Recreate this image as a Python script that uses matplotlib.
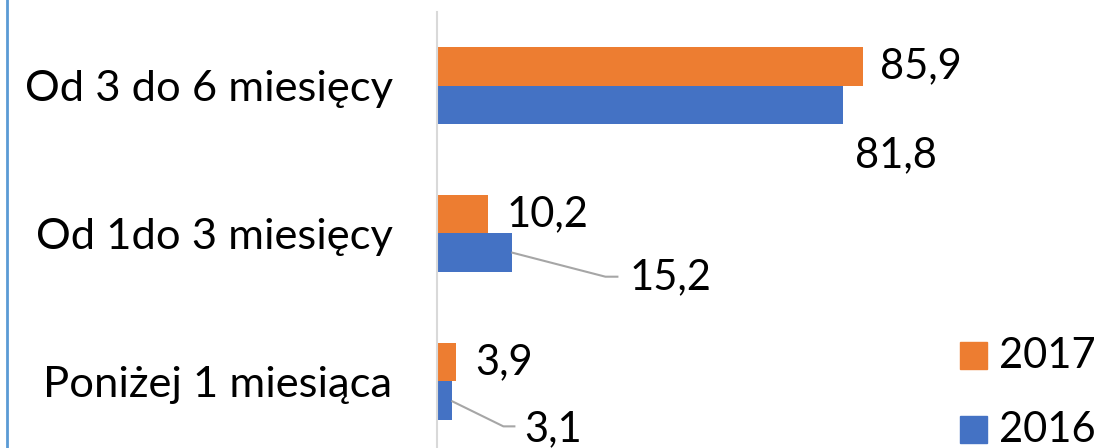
import matplotlib
matplotlib.use("Agg")
import matplotlib.pyplot as plt
from matplotlib.patches import Rectangle
from matplotlib.lines import Line2D
import numpy as np

categories = ["Poniżej 1 miesiąca", "Od 1do 3 miesięcy", "Od 3 do 6 miesięcy"]
series_names = ["2017", "2016"]
values_2017 = [3.9, 10.2, 85.9]
values_2016 = [3.1, 15.2, 81.8]
labels_2017 = ["3,9", "10,2", "85,9"]
labels_2016 = ["3,1", "15,2", "81,8"]

ORANGE = "#ED7D31"
BLUE = "#4472C4"
FONT = "Lato"
FS = 30
FS_CAT = 31.3

W, H = 1102, 448
fig = plt.figure(figsize=(W / 100, H / 100), dpi=100)
ax = fig.add_axes([437 / W, -7 / H, (W - 437) / W, 443 / H])

y = np.arange(len(categories))
bh = 0.26
ax.barh(y + bh / 2, values_2017, height=bh, color=ORANGE)
ax.barh(y - bh / 2, values_2016, height=bh, color=BLUE)
ax.set_xlim(0, 665 / 4.96)
ax.set_ylim(-0.5, 2.5)

for s in ["top", "right", "bottom"]:
    ax.spines[s].set_visible(False)
ax.spines["left"].set_color("#D9D9D9")
ax.spines["left"].set_linewidth(1.5)
ax.set_xticks([])
ax.set_yticks(y)
ax.set_yticklabels(categories, fontsize=FS_CAT, family=FONT)
ax.tick_params(axis="y", length=0, pad=32)

# value label offsets (pixels, from bar end)
off_2017 = [(19, 0), (19, 0), (17, 0)]
off_2016 = [(72, -29), (117, -25), (12, -50)]
leaders_2016 = [[(0, -1), (51, -26), (62, -26)], [(0, 0), (93, -24), (105, -24)], None]

for i in range(len(categories)):
    ax.annotate(labels_2017[i], xy=(values_2017[i], y[i] + bh / 2),
                xytext=off_2017[i], textcoords="offset pixels",
                ha="left", va="center", fontsize=FS, family=FONT)
    ax.annotate(labels_2016[i], xy=(values_2016[i], y[i] - bh / 2),
                xytext=off_2016[i], textcoords="offset pixels",
                ha="left", va="center", fontsize=FS, family=FONT)

fig.canvas.draw()
for i in range(len(categories)):
    if leaders_2016[i] is None:
        continue
    bx, by = ax.transData.transform((values_2016[i], y[i] - bh / 2))
    xs = [bx + p[0] for p in leaders_2016[i]]
    ys = [by + p[1] for p in leaders_2016[i]]
    fig.add_artist(Line2D(xs, ys, transform=None, color="#A6A6A6", lw=1.5))

# left border
fig.add_artist(Line2D([6.5 / W, 6.5 / W], [0, 1], transform=fig.transFigure,
                      color="#5B9BD5", lw=2))

# legend
leg_colors = [ORANGE, BLUE]
leg_y = [355.5, 429.5]
for name, c, yc in zip(series_names, leg_colors, leg_y):
    fig.add_artist(Rectangle((960 / W, (H - yc - 13.5) / H), 27 / W, 27 / H,
                             transform=fig.transFigure, color=c))
    fig.text(999 / W, (H - yc) / H, name, ha="left", va="center",
             fontsize=FS, family=FONT)

fig.savefig("out.png", dpi=100)
